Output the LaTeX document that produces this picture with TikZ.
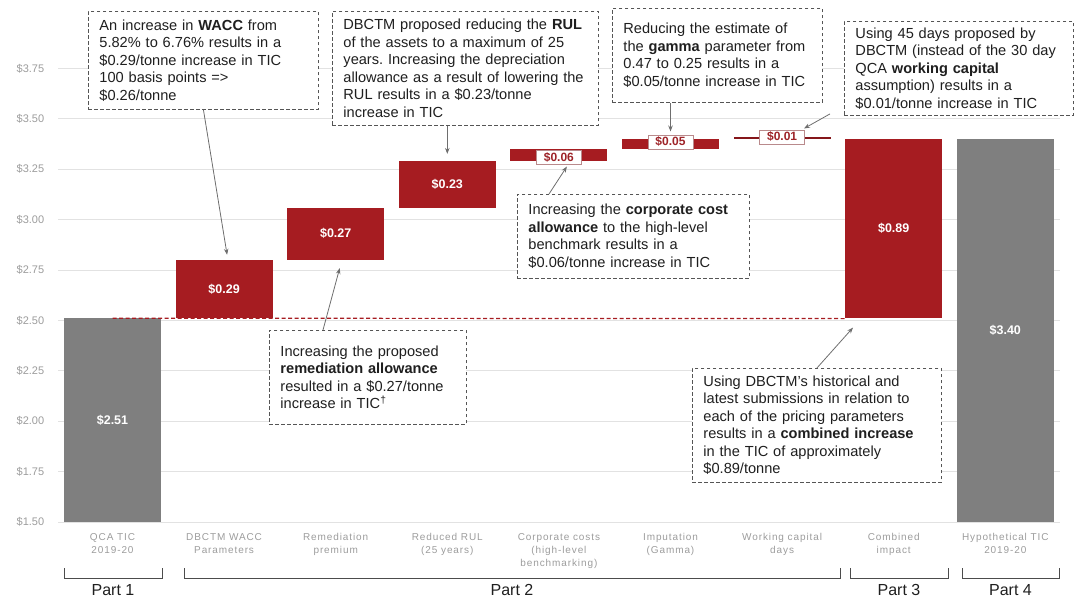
\documentclass[tikz,border=0pt]{standalone}
\usepackage{fontspec}
\setmainfont{Liberation Sans}
\newfontfamily\TicSpaced[LetterSpace=9]{Liberation Sans}
\usetikzlibrary{arrows.meta,calc,positioning}
\frenchspacing
\definecolor{TicRed}{HTML}{A61C21}
\definecolor{TicGrey}{HTML}{7F7F7F}
\definecolor{TicGrid}{HTML}{E2E2E2}
\definecolor{TicInk}{HTML}{1F1F1F}
\definecolor{TicMuted}{HTML}{9C9C9C}
\definecolor{TicFrame}{HTML}{555555}
\definecolor{TicTag}{HTML}{9E2328}
\definecolor{TicTagRule}{HTML}{B98A8C}
\tikzset{
  redbar/.style={
    fill=TicRed,
    minimum width=97pt,
    inner sep=0pt,
    text=white,
    font=\fontsize{12.5pt}{14pt}\selectfont\bfseries
  },
  greybar/.style={
    redbar,
    fill=TicGrey
  },
  tag/.style={
    draw=TicTagRule,
    fill=white,
    line width=0.8pt,
    text=TicTag,
    font=\fontsize{12pt}{13pt}\selectfont\bfseries,
    minimum width=45pt,
    minimum height=14pt,
    inner xsep=2pt,
    inner ysep=1pt
  },
  note/.style={
    draw=TicFrame,
    dash pattern=on 3.5pt off 2.5pt,
    fill=white,
    line width=0.9pt,
    anchor=north west,
    align=left,
    inner xsep=11pt,
    inner ysep=4pt,
    font=\fontsize{14.6pt}{17.5pt}\selectfont,
    text=TicInk
  },
  pointer/.style={
    -{Stealth[length=6pt,width=4.5pt]},
    draw=TicFrame!85,
    line width=0.8pt
  },
  gridline/.style={
    draw=TicGrid,
    line width=0.9pt
  },
  axislabel/.style={
    anchor=east,
    xshift=-10pt,
    text=TicMuted,
    font=\fontsize{11pt}{12pt}\selectfont
  },
  startlevel/.style={
    draw=TicRed,
    dash pattern=on 4pt off 2.5pt,
    line width=1.2pt
  },
  category/.style={
    anchor=north,
    align=center,
    text=TicMuted,
    font=\TicSpaced\fontsize{10pt}{13pt}\selectfont
  },
  partbracket/.style={
    draw=TicInk!80,
    line width=0.9pt
  },
  partlabel/.style={
    below=3pt,
    text=TicInk,
    font=\fontsize{16pt}{18pt}\selectfont
  }
}

\begin{document}
\begin{tikzpicture}[x=1pt,y=-1pt]
  \useasboundingbox (0,0) rectangle (1076,602);

  % Dollar grid: 50.4px per quarter dollar, $1.50 on y=522.
  \draw[gridline] (58,522.0) node[axislabel] (lab-150) {\$1.50} -- (1060,522.0);
  \draw[gridline] (58,471.6) node[axislabel] (lab-175) {\$1.75} -- (1060,471.6);
  \draw[gridline] (58,421.2) node[axislabel] (lab-200) {\$2.00} -- (1060,421.2);
  \draw[gridline] (58,370.8) node[axislabel] (lab-225) {\$2.25} -- (1060,370.8);
  \draw[gridline] (58,320.4) node[axislabel] (lab-250) {\$2.50} -- (1060,320.4);
  \draw[gridline] (58,270.0) node[axislabel] (lab-275) {\$2.75} -- (1060,270.0);
  \draw[gridline] (58,219.6) node[axislabel] (lab-300) {\$3.00} -- (1060,219.6);
  \draw[gridline] (58,169.2) node[axislabel] (lab-325) {\$3.25} -- (1060,169.2);
  \draw[gridline] (58,118.8) node[axislabel] (lab-350) {\$3.50} -- (1060,118.8);
  \draw[gridline] (58,68.4) node[axislabel] (lab-375) {\$3.75} -- (1060,68.4);

  % Waterfall columns, one every 111.6px.
  \node[greybar,minimum height=203.6pt] (qca) at (112.5,420.2) {\$2.51};
  \node[redbar,minimum height=58.5pt] (wacc) at (224.1,289.2) {\$0.29};
  \node[redbar,minimum height=52.4pt] (remed) at (335.7,233.7) {\$0.27};
  \node[redbar,minimum height=46.4pt] (rul) at (447.3,184.3) {\$0.23};
  \node[redbar,minimum height=12.1pt] (corp) at (558.9,155.1) {};
  \node[redbar,minimum height=10.1pt] (gamma) at (670.5,143.9) {};
  \node[redbar,minimum height=1.8pt,fill=TicRed!80!black] (wcap) at (782.1,137.9) {};
  \node[redbar,minimum height=179.4pt] (comb) at (893.7,228.7) {\$0.89};
  \node[greybar,minimum height=383pt] (hypo) at (1005.3,330.5) {\$3.40};

  % Starting level carried across to the combined column.
  \draw[startlevel] (qca.north) -- (comb.south west);

  % Boxed values for the thin columns.
  \node[tag] (corp-tag) at ([yshift=-2pt]corp.center) {\$0.06};
  \node[tag] (gamma-tag) at ([yshift=2pt]gamma.center) {\$0.05};
  \node[tag] (wcap-tag) at ([yshift=1pt]wcap.center) {\$0.01};

  % Explanatory call-outs.
  \node[note,text width=208pt,minimum height=98pt] (wacc-note) at (88,11)
    {An increase in \textbf{WACC} from\\
     5.82\% to 6.76\% results in a\\
     \$0.29/tonne increase in TIC\\
     100 basis points =>\\
     \$0.26/tonne};
  \node[note,text width=244pt,minimum height=114pt] (rul-note) at (332,11)
    {DBCTM proposed reducing the \textbf{RUL}\\
     of the assets to a maximum of 25\\
     years. Increasing the depreciation\\
     allowance as a result of lowering the\\
     RUL results in a \$0.23/tonne\\
     increase in TIC};
  \node[note,text width=188pt,minimum height=94pt] (gamma-note) at (612,8)
    {Reducing the estimate of\\
     the \textbf{gamma} parameter from\\
     0.47 to 0.25 results in a\\
     \$0.05/tonne increase in TIC};
  \node[note,text width=207pt,minimum height=94pt] (wcap-note) at (844,21)
    {Using 45 days proposed by\\
     DBCTM (instead of the 30 day\\
     QCA \textbf{working capital}\\
     assumption) results in a\\
     \$0.01/tonne increase in TIC};
  \node[note,text width=210pt,minimum height=84pt] (corp-note) at (517,194)
    {Increasing the \textbf{corporate cost}\\
     \textbf{allowance} to the high-level\\
     benchmark results in a\\
     \$0.06/tonne increase in TIC};
  \node[note,text width=175pt,minimum height=94pt] (remed-note) at (269,330)
    {Increasing the proposed\\
     \textbf{remediation allowance}\\
     resulted in a \$0.27/tonne\\
     increase in TIC\textsuperscript{\textdagger}};
  \node[note,text width=227pt,minimum height=114pt] (comb-note) at (692,368)
    {Using DBCTM's historical and\\
     latest submissions in relation to\\
     each of the pricing parameters\\
     results in a \textbf{combined increase}\\
     in the TIC of approximately\\
     \$0.89/tonne};

  % Pointers from each call-out to its column.
  \draw[pointer] (wacc-note.south) -- ([shift={(3pt,5pt)}]wacc.north);
  \draw[pointer] (rul-note.south -| rul.north) -- ([yshift=7pt]rul.north);
  \draw[pointer] (gamma-note.south -| gamma-tag.north) -- ([yshift=3pt]gamma-tag.north);
  \draw[pointer] ([shift={(-14pt,2pt)}]wcap-note.south west)
    -- ([shift={(-1pt,1pt)}]wcap-tag.north east);
  \draw[pointer] ([xshift=32pt]corp-note.north west) -- ([shift={(8pt,-2pt)}]corp-tag.south);
  \draw[pointer] ([xshift=54pt]remed-note.north west) -- ([shift={(4pt,-8pt)}]remed.south);
  \draw[pointer] (comb-note.north) -- ([shift={(8pt,-9pt)}]comb.south west);

  % Category names under the axis.
  \node[category] (cat-qca) at (112.5,530) {QCA TIC\\2019-20};
  \node[category] (cat-wacc) at (224.1,530) {DBCTM WACC\\Parameters};
  \node[category] (cat-remed) at (335.7,530) {Remediation\\premium};
  \node[category] (cat-rul) at (447.3,530) {Reduced RUL\\(25 years)};
  \node[category] (cat-corp) at (558.9,530) {Corporate costs\\(high-level\\benchmarking)};
  \node[category] (cat-gamma) at (670.5,530) {Imputation\\(Gamma)};
  \node[category] (cat-wcap) at (782.1,530) {Working capital\\days};
  \node[category] (cat-comb) at (893.7,530) {Combined\\impact};
  \node[category] (cat-hypo) at (1005.3,530) {Hypothetical TIC\\2019-20};

  % Brackets grouping the columns into parts.
  \draw[partbracket] (64,568) -- (64,578)
    -- node[partlabel] (part-1) {Part 1} (162,578) -- (162,568);
  \draw[partbracket] (184,568) -- (184,578)
    -- node[partlabel] (part-2) {Part 2} (840,578) -- (840,568);
  \draw[partbracket] (850,568) -- (850,578)
    -- node[partlabel] (part-3) {Part 3} (948,578) -- (948,568);
  \draw[partbracket] (962,568) -- (962,578)
    -- node[partlabel] (part-4) {Part 4} (1059,578) -- (1059,568);
\end{tikzpicture}
\end{document}
